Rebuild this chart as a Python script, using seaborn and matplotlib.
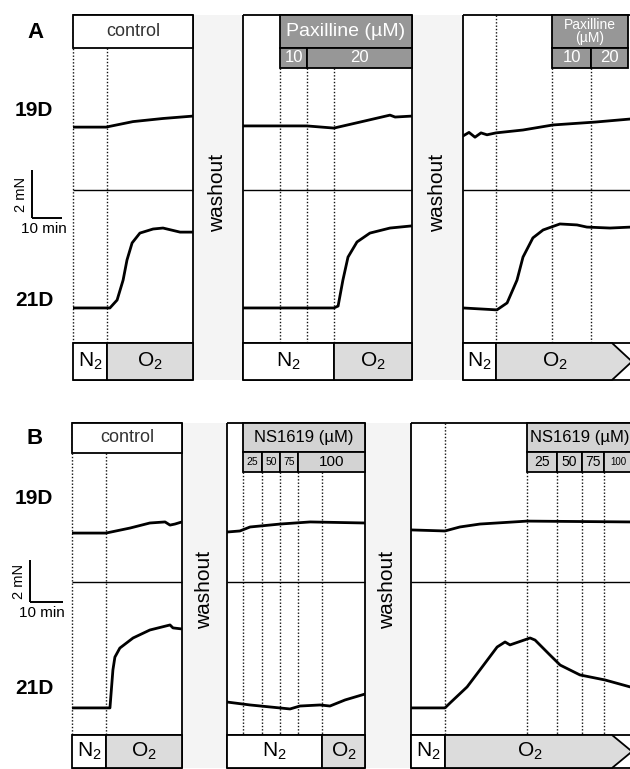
import numpy as np
import pandas as pd
import seaborn as sns
import matplotlib.pyplot as plt
from matplotlib.patches import Rectangle, Polygon

W, H = 630, 769

# isometric tension traces
# time in min from the start of each recording block, force in mN above the row floor
A_CTRL_19D_T = [0, 11, 20, 30, 40]
A_CTRL_19D_F = [2.62, 2.62, 2.85, 2.98, 3.08]
A_CTRL_21D_T = [0, 12.3, 14.7, 16.7, 18.0, 19.7, 22.3, 26.7, 30.0, 35.7, 40]
A_CTRL_21D_F = [1.46, 1.46, 1.79, 2.62, 3.46, 4.17, 4.58, 4.75, 4.79, 4.62, 4.62]

A_PAX1_19D_T = [0, 21.3, 30.3, 39, 49, 50.7, 56.3]
A_PAX1_19D_F = [2.67, 2.67, 2.58, 2.83, 3.12, 3.04, 3.08]
A_PAX1_21D_T = [0, 30.3, 31.7, 33.3, 35, 38, 42.3, 49, 56.3]
A_PAX1_21D_F = [1.46, 1.46, 1.54, 2.62, 3.58, 4.21, 4.58, 4.79, 4.88]

A_PAX2_19D_T = [0, 2, 4, 6, 8, 11, 20, 30, 44, 56]
A_PAX2_19D_F = [2.25, 2.4, 2.2, 2.38, 2.3, 2.38, 2.5, 2.71, 2.83, 2.96]
A_PAX2_21D_T = [0, 11.3, 14.7, 18, 20, 23.3, 26.7, 32.3, 38, 41.3, 49, 56]
A_PAX2_21D_F = [1.46, 1.38, 1.67, 2.62, 3.58, 4.38, 4.71, 4.96, 4.92, 4.83, 4.79, 4.83]

B_CTRL_19D_T = [0, 10.3, 17.6, 23.6, 28.2, 29.7, 31.2, 33.3]
B_CTRL_19D_F = [2.33, 2.33, 2.57, 2.81, 2.86, 2.71, 2.76, 2.86]
B_CTRL_21D_T = [0, 11.5, 12.4, 13.0, 14.5, 18.5, 23.6, 29.7, 30.6, 33.3]
B_CTRL_21D_F = [1.29, 1.29, 3.1, 3.71, 4.14, 4.62, 5.0, 5.24, 5.1, 5.05]

B_NS1_19D_T = [0, 3.9, 7.0, 16.1, 25.2, 41.8]
B_NS1_19D_F = [2.38, 2.43, 2.62, 2.76, 2.86, 2.81]
B_NS1_21D_T = [0, 7.0, 19.1, 22.1, 28.2, 31.2, 35.8, 41.8]
B_NS1_21D_F = [1.57, 1.43, 1.24, 1.38, 1.43, 1.38, 1.67, 1.95]

B_NS2_19D_T = [0, 10.3, 14.8, 20.9, 35.2, 66.4]
B_NS2_19D_F = [2.48, 2.43, 2.62, 2.76, 2.9, 2.86]
B_NS2_21D_T = [0, 10.3, 11.8, 17.0, 20.9, 26.1, 28.5, 30.0, 36.1, 37.6, 42.1, 45.2, 51.2, 58.8, 66.4]
B_NS2_21D_F = [1.29, 1.29, 1.52, 2.29, 3.1, 4.19, 4.43, 4.29, 4.62, 4.52, 3.81, 3.33, 2.86, 2.62, 2.29]

PAX_DOSES = ["10", "20"]
NS_DOSES = ["25", "50", "75", "100"]

sns.set_style("white")
plt.rcParams["font.family"] = ["Liberation Sans", "DejaVu Sans"]
plt.rcParams["mathtext.default"] = "regular"
plt.rcParams["text.color"] = "black"

fig = plt.figure(figsize=(W / 100, H / 100), dpi=100)
bg = fig.add_axes([0, 0, 1, 1])
bg.set_xlim(0, W)
bg.set_ylim(H, 0)
bg.axis("off")

LW = 1.3
DOT = dict(color="#111111", lw=1.0, ls=(0, (1, 1.4)))
PAX_GRAY = "#979797"
NS_GRAY = "#d3d3d3"
O2_GRAY = "#dcdcdc"
WASH = "#f4f4f4"
N2 = "N$_2$"
O2 = "O$_2$"


def line(xs, ys, **kw):
    style = dict(color="black", lw=LW, solid_capstyle="butt")
    style.update(kw)
    bg.plot(xs, ys, **style)


def box(x0, y0, x1, y1, fc="white", text=None, tc="black", size=12, **kw):
    bg.add_patch(Rectangle((x0, y0), x1 - x0, y1 - y0, fc=fc, ec="black", lw=LW, zorder=2))
    if text:
        bg.text((x0 + x1) / 2, (y0 + y1) / 2, text, ha="center", va="center",
                color=tc, fontsize=size, zorder=3, **kw)


def arrow_box(x0, y0, x1, y1, text):
    tip = x1 - 18
    pts = [(x0, y0), (tip, y0), (x1 + 2, (y0 + y1) / 2), (tip, y1), (x0, y1)]
    bg.add_patch(Polygon(pts, closed=True, fc=O2_GRAY, ec="black", lw=LW, zorder=2))
    bg.text((x0 + x1) / 2 - 8, (y0 + y1) / 2, text, ha="center", va="center",
            color="black", fontsize=15, zorder=3)


def trace_axes(x0, y0, x1, y1, px_min, px_mn):
    ax = fig.add_axes([x0 / W, 1 - y1 / H, (x1 - x0) / W, (y1 - y0) / H])
    ax.set_xlim(0, (x1 - x0) / px_min)
    ax.set_ylim(0, (y1 - y0) / px_mn)
    ax.axis("off")
    ax.patch.set_visible(False)
    return ax


def trace(ax, t, f):
    df = pd.DataFrame({"t": t, "f": f})
    sns.lineplot(data=df, x="t", y="f", ax=ax, color="black", lw=2.0, sort=False,
                 estimator=None, legend=False)
    ax.set_xlabel("")
    ax.set_ylabel("")
    ax.axis("off")


def segment(x0, x1, top, mid, bot, boxbot, left_dotted=False):
    line([x0, x1], [top, top])
    line([x0, x1], [mid, mid], lw=1.0)
    line([x0, x1], [bot, bot])
    line([x0, x1], [boxbot, boxbot])
    if left_dotted:
        line([x0, x0], [top, bot], **DOT)
    else:
        line([x0, x0], [top, boxbot])
    if x1 < W - 1:
        line([x1, x1], [top, boxbot])


def washout(x0, x1, top, boxbot, ty):
    bg.add_patch(Rectangle((x0, top), x1 - x0, boxbot - top, fc=WASH, ec="none", zorder=0))
    bg.text((x0 + x1) / 2, ty, "washout", rotation=90, ha="center", va="center", fontsize=15)


def scale_bar(x, y, px_min, px_mn):
    line([x, x], [y - 2 * px_mn, y], lw=1.4)
    line([x, x + 10 * px_min], [y, y], lw=1.4)
    bg.text(x - 4, y - px_mn, "2 mN", rotation=90, ha="right", va="center", fontsize=10.5)
    bg.text(x + 12, y + 4, "10 min", ha="center", va="top", fontsize=11)


# ---------------- panel A ----------------
apm, apn = 3.0, 24.0
top, mid, bot, bb = 15, 190, 343, 380
bg.text(35, 33, "A", ha="center", va="center", fontsize=16, fontweight="bold")
bg.text(34, 110, "19D", ha="center", va="center", fontsize=15, fontweight="bold")
bg.text(34, 300, "21D", ha="center", va="center", fontsize=15, fontweight="bold")
scale_bar(32, 218, apm, apn)

washout(193, 243, top, bb, 193)
washout(412, 463, top, bb, 193)

segment(73, 193, top, mid, bot, bb, left_dotted=True)
line([107, 107], [48, bot], **DOT)
box(73, top, 193, 48, text="control", tc="#333333", size=13)
box(73, bot, 107, bb, text=N2, size=15)
box(107, bot, 193, bb, fc=O2_GRAY, text=O2, size=15)

segment(243, 412, top, mid, bot, bb)
for x in [280, 307, 334]:
    line([x, x], [68, bot], **DOT)
box(280, top, 412, 48, fc=PAX_GRAY, text="Paxilline (µM)", tc="white", size=14)
box(280, 48, 307, 68, fc=PAX_GRAY, text=PAX_DOSES[0], tc="white", size=12)
box(307, 48, 412, 68, fc=PAX_GRAY, text=PAX_DOSES[1], tc="white", size=12)
box(243, bot, 334, bb, text=N2, size=15)
box(334, bot, 412, bb, fc=O2_GRAY, text=O2, size=15)

segment(463, W, top, mid, bot, bb)
line([496, 496], [top, bot], **DOT)
for x in [552, 591]:
    line([x, x], [68, bot], **DOT)
box(552, top, 628, 48, fc=PAX_GRAY, text="Paxilline\n(µM)", tc="white", size=10, linespacing=0.95)
box(552, 48, 591, 68, fc=PAX_GRAY, text=PAX_DOSES[0], tc="white", size=12)
box(591, 48, 628, 68, fc=PAX_GRAY, text=PAX_DOSES[1], tc="white", size=12)
box(463, bot, 496, bb, text=N2, size=15)
arrow_box(496, bot, W, bb, O2)

trace(trace_axes(73, top, 193, mid, apm, apn), A_CTRL_19D_T, A_CTRL_19D_F)
trace(trace_axes(73, mid, 193, bot, apm, apn), A_CTRL_21D_T, A_CTRL_21D_F)
trace(trace_axes(243, top, 412, mid, apm, apn), A_PAX1_19D_T, A_PAX1_19D_F)
trace(trace_axes(243, mid, 412, bot, apm, apn), A_PAX1_21D_T, A_PAX1_21D_F)
trace(trace_axes(463, top, W, mid, apm, apn), A_PAX2_19D_T, A_PAX2_19D_F)
trace(trace_axes(463, mid, W, bot, apm, apn), A_PAX2_21D_T, A_PAX2_21D_F)

# ---------------- panel B ----------------
bpm, bpn = 3.3, 21.0
top, mid, bot, bb = 423, 582, 735, 768
bg.text(35, 438, "B", ha="center", va="center", fontsize=16, fontweight="bold")
bg.text(34, 499, "19D", ha="center", va="center", fontsize=15, fontweight="bold")
bg.text(34, 688, "21D", ha="center", va="center", fontsize=15, fontweight="bold")
scale_bar(30, 602, bpm, bpn)

washout(182, 227, top, bb, 590)
washout(365, 411, top, bb, 590)

segment(72, 182, top, mid, bot, bb, left_dotted=True)
line([106, 106], [453, bot], **DOT)
box(72, top, 182, 453, text="control", tc="#333333", size=13)
box(72, bot, 106, bb, text=N2, size=15)
box(106, bot, 182, bb, fc=O2_GRAY, text=O2, size=15)

segment(227, 365, top, mid, bot, bb)
for x in [243, 262, 280, 298, 322]:
    line([x, x], [472, bot], **DOT)
box(243, top, 365, 452, fc=NS_GRAY, text="NS1619 (µM)", size=12)
for (x0, x1), lab, s in zip([(243, 262), (262, 280), (280, 298), (298, 365)], NS_DOSES, [7.5, 7.5, 7.5, 11]):
    box(x0, 452, x1, 472, fc=NS_GRAY, text=lab, size=s)
box(227, bot, 322, bb, text=N2, size=15)
box(322, bot, 365, bb, fc=O2_GRAY, text=O2, size=15)

segment(411, W, top, mid, bot, bb)
line([445, 445], [top, bot], **DOT)
for x in [527, 557, 582, 604]:
    line([x, x], [472, bot], **DOT)
box(527, top, 632, 452, fc=NS_GRAY, text="NS1619 (µM)", size=12)
for (x0, x1), lab, s in zip([(527, 557), (557, 582), (582, 604), (604, 632)], NS_DOSES, [10, 10, 10, 7]):
    box(x0, 452, x1, 472, fc=NS_GRAY, text=lab, size=s)
box(411, bot, 445, bb, text=N2, size=15)
arrow_box(445, bot, W, bb, O2)

trace(trace_axes(72, top, 182, mid, bpm, bpn), B_CTRL_19D_T, B_CTRL_19D_F)
trace(trace_axes(72, mid, 182, bot, bpm, bpn), B_CTRL_21D_T, B_CTRL_21D_F)
trace(trace_axes(227, top, 365, mid, bpm, bpn), B_NS1_19D_T, B_NS1_19D_F)
trace(trace_axes(227, mid, 365, bot, bpm, bpn), B_NS1_21D_T, B_NS1_21D_F)
trace(trace_axes(411, top, W, mid, bpm, bpn), B_NS2_19D_T, B_NS2_19D_F)
trace(trace_axes(411, mid, W, bot, bpm, bpn), B_NS2_21D_T, B_NS2_21D_F)

fig.savefig("out.png", dpi=100)
